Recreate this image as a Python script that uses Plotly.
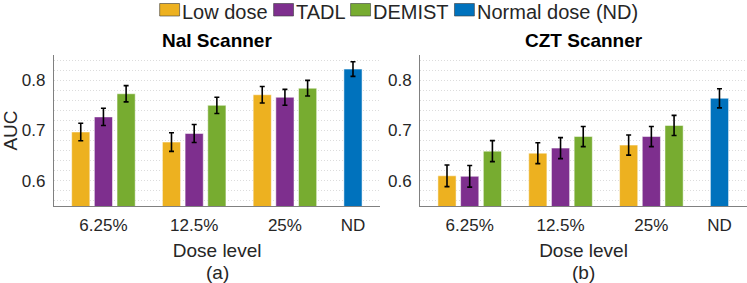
import plotly.graph_objects as go

# ---------------- data ----------------
series_names = ["Low dose", "TADL", "DEMIST", "Normal dose (ND)"]
dose_labels = ["6.25%", "12.5%", "25%"]
nd_label = "ND"
group_pos = [1, 2, 3]
nd_pos = [3.75]

nai_low = [0.697, 0.677, 0.771]
nai_low_err = [0.0175, 0.0185, 0.0165]
nai_tadl = [0.727, 0.694, 0.766]
nai_tadl_err = [0.0172, 0.0178, 0.0158]
nai_demist = [0.773, 0.750, 0.784]
nai_demist_err = [0.0162, 0.0162, 0.0155]
nai_nd = [0.822]
nai_nd_err = [0.0145]

czt_low = [0.610, 0.655, 0.671]
czt_low_err = [0.0215, 0.0208, 0.020]
czt_tadl = [0.609, 0.665, 0.688]
czt_tadl_err = [0.0215, 0.0208, 0.020]
czt_demist = [0.659, 0.688, 0.710]
czt_demist_err = [0.0208, 0.020, 0.020]
czt_nd = [0.764]
czt_nd_err = [0.019]

# ---------------- style ----------------
COLORS = ["#EDB120", "#7E2F8E", "#77AC30", "#0072BD"]
OFFSETS = [-0.35, -0.1, 0.15, -0.1]
TXT = "#262626"
FONT = "Liberation Sans"
BW = 0.2
W, H = 747, 283
GRID = "#dcdcdc"


def px(x):
    return x / W


def py(y):
    return (H - y) / H


fig = go.Figure()


def add_bars(vals, errs, xs, k, xa, ya):
    fig.add_trace(go.Bar(
        x=xs, y=vals, name=series_names[k], width=BW, offset=OFFSETS[k],
        marker=dict(color=COLORS[k], line=dict(color="rgba(255,255,255,0.5)", width=1)),
        error_y=dict(type="data", array=errs, color="black", thickness=1.6, width=2.5),
        xaxis=xa, yaxis=ya, showlegend=False,
    ))


for (low, lowe, tadl, tadle, dem, deme, nd, nde, xa, ya) in [
    (nai_low, nai_low_err, nai_tadl, nai_tadl_err, nai_demist, nai_demist_err, nai_nd, nai_nd_err, "x", "y"),
    (czt_low, czt_low_err, czt_tadl, czt_tadl_err, czt_demist, czt_demist_err, czt_nd, czt_nd_err, "x2", "y2"),
]:
    add_bars(low, lowe, group_pos, 0, xa, ya)
    add_bars(tadl, tadle, group_pos, 1, xa, ya)
    add_bars(dem, deme, group_pos, 2, xa, ya)
    add_bars(nd, nde, nd_pos, 3, xa, ya)

ydom = [py(206), py(55)]
xdom1 = [px(51), px(379)]
xdom2 = [px(418.7), 1.0]

xcommon = dict(
    range=[0.453, 4.053], tickvals=group_pos + nd_pos, ticktext=dose_labels + [nd_label],
    showline=True, linecolor="#808080", linewidth=1, showgrid=False, zeroline=False,
    ticks="outside", ticklen=4, tickcolor="rgba(0,0,0,0)",
    tickfont=dict(size=17, color=TXT, family=FONT),
)
ycommon = dict(
    range=[0.55, 0.85], tickvals=[0.6, 0.7, 0.8], ticktext=["0.6", "0.7", "0.8"],
    showline=True, linecolor="#808080", linewidth=1,
    showgrid=True, gridcolor=GRID, griddash="1px,2px", gridwidth=1, zeroline=False,
    minor=dict(dtick=0.02, tick0=0.5, showgrid=True, gridcolor=GRID, griddash="1px,2px", gridwidth=1),
    ticks="outside", ticklen=4, tickcolor="rgba(0,0,0,0)",
    tickfont=dict(size=17, color=TXT, family=FONT),
)

# manual legend (MATLAB-style wide swatches)
leg_swatch_x = [157.3, 271.7, 349.0, 453.3]
shapes = []
annotations = []
for k, name in enumerate(series_names):
    x0 = leg_swatch_x[k]
    shapes.append(dict(type="rect", xref="paper", yref="paper",
                       x0=px(x0), x1=px(x0 + 20), y0=py(16), y1=py(3.5),
                       fillcolor=COLORS[k], line=dict(color="rgba(60,60,60,0.6)", width=1)))
    annotations.append(dict(text=name, x=px(x0 + 21.5), y=1.0, xref="paper", yref="paper",
                            xanchor="left", yanchor="top", showarrow=False, borderpad=0,
                            font=dict(size=20, color=TXT, family=FONT)))

for dom, title in [(xdom1, "<b>NaI Scanner</b>"), (xdom2, "<b>CZT Scanner</b>")]:
    annotations.append(dict(text=title, x=(dom[0] + dom[1]) / 2, y=py(40),
                            xref="paper", yref="paper", xanchor="center", yanchor="middle",
                            showarrow=False, font=dict(size=19, color="black", family=FONT)))
for dom, lab in [(xdom1, "(a)"), (xdom2, "(b)")]:
    annotations.append(dict(text=lab, x=(dom[0] + dom[1]) / 2, y=py(272.5),
                            xref="paper", yref="paper", xanchor="center", yanchor="middle",
                            showarrow=False, font=dict(size=19, color=TXT, family=FONT)))

fig.update_layout(
    width=W, height=H,
    margin=dict(l=0, r=0, t=0, b=0),
    paper_bgcolor="white", plot_bgcolor="white",
    font=dict(family=FONT, color=TXT),
    barmode="overlay",
    showlegend=False,
    xaxis=dict(domain=xdom1, anchor="y",
               title=dict(text="Dose level", font=dict(size=19, color=TXT), standoff=9), **xcommon),
    yaxis=dict(domain=ydom, anchor="x",
               title=dict(text="AUC", font=dict(size=19, color=TXT), standoff=8), **ycommon),
    xaxis2=dict(domain=xdom2, anchor="y2",
                title=dict(text="Dose level", font=dict(size=19, color=TXT), standoff=9), **xcommon),
    yaxis2=dict(domain=ydom, anchor="x2", **ycommon),
    shapes=shapes,
    annotations=annotations,
)

fig.write_html("out.html", config={"displayModeBar": False},
               post_script="document.body.style.margin='0px';")
